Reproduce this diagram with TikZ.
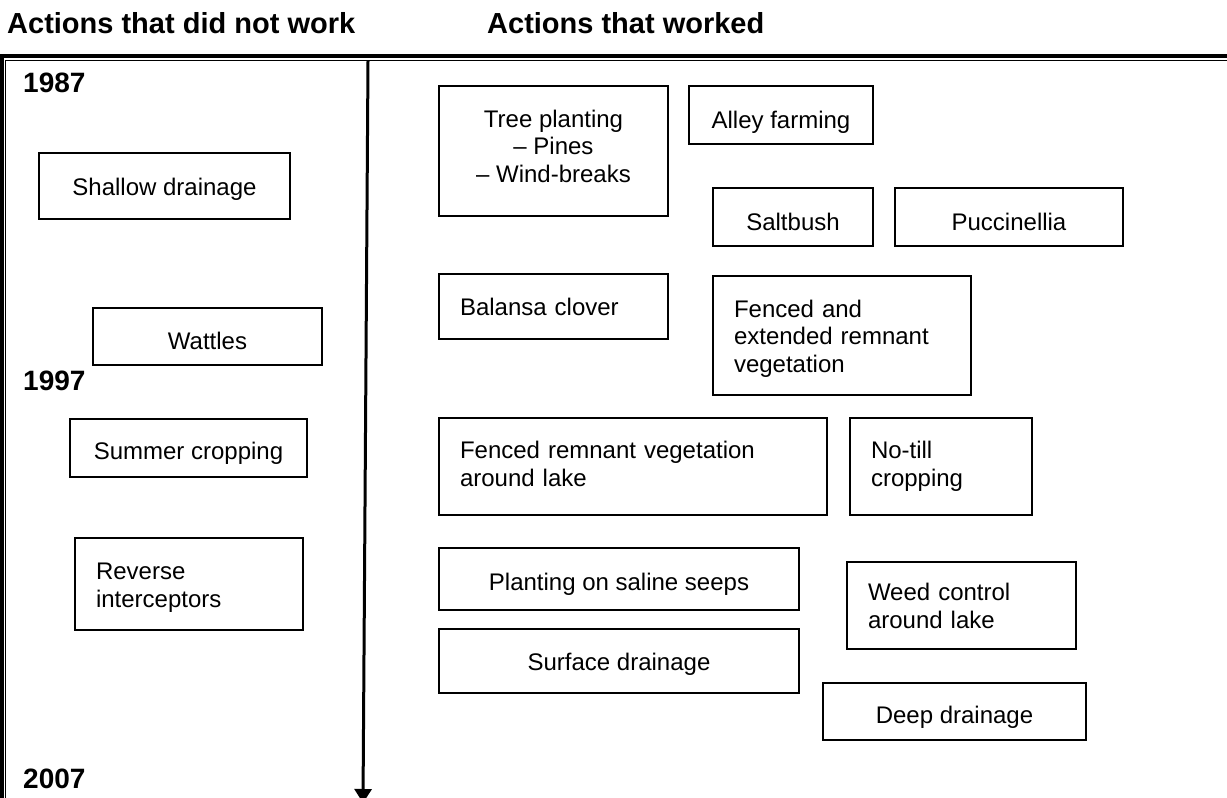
\documentclass[tikz,border=0pt]{standalone}
\usepackage{fontspec}
\setmainfont{Liberation Sans}
\usetikzlibrary{arrows.meta}

\begin{document}
\begin{tikzpicture}[x=1pt, y=-1pt,
    cbox/.style n args={2}{draw, line width=1.3pt, minimum width=#1, minimum height=#2,
      align=center, inner sep=0pt, font=\fontsize{24}{27.6}\selectfont},
    lbox/.style n args={2}{draw, line width=1.3pt, text width=#1, minimum height=#2,
      align=left, inner xsep=21pt, inner ysep=0pt, font=\fontsize{24}{27.6}\selectfont},
    lift/.style 2 args={text height=#1, text depth=#2},
    year/.style={anchor=base west, inner sep=0pt, font=\bfseries\fontsize{28}{32}\selectfont},
    heading/.style={anchor=base west, inner sep=0pt, font=\bfseries\fontsize{29}{33}\selectfont},
    timeline/.style={line width=3pt, -{Triangle[width=17pt,length=14pt]}}]
  \useasboundingbox (0,0) rectangle (1227,798);
  \clip (0,0) rectangle (1227,798);

  \node[heading] (notwork) at (7,33) {Actions that did not work};
  \node[heading] (worked) at (487,33) {Actions that worked};

  \draw[line width=4.3pt] (1227,56) -- (1.7,56) -- (1.7,798);
  \draw[line width=1.3pt] (1227,60.7) -- (5.3,60.7) -- (5.3,798);

  \coordinate (tstart) at (368,61);
  \coordinate (tend) at (363,803);
  \draw[timeline] (tstart) -- (tend);

  \node[year] (y1987) at (23,92) {1987};
  \node[year] (y1997) at (23,390) {1997};
  \node[year] (y2007) at (23,788) {2007};

  \node[cbox={251pt}{66pt}, lift={20.25pt}{2.25pt}] (shallow) at (164.5,186) {Shallow drainage};
  \node[cbox={229pt}{57pt}, lift={26.25pt}{1.25pt}] (wattles) at (207.5,336.5) {Wattles};
  \node[cbox={237pt}{58pt}, lift={25pt}{2.5pt}] (summer) at (188.5,448) {Summer cropping};
  \node[lbox={186pt}{92pt}, lift={23.5pt}{31.6pt}] (reverse) at (189,584) {Reverse\\interceptors};

  \node[cbox={229pt}{130pt}, lift={72.55pt}{10.15pt}] (tree) at (553.5,151) {Tree planting\\– Pines\\– Wind-breaks};
  \node[cbox={184pt}{58pt}, lift={26.75pt}{0.75pt}] (alley) at (781,115) {Alley farming};
  \node[cbox={160pt}{58pt}, lift={26.75pt}{0.75pt}] (saltbush) at (793,217) {Saltbush};
  \node[cbox={228pt}{58pt}, lift={26.75pt}{0.75pt}] (puccinellia) at (1009,217) {Puccinellia};
  \node[lbox={187pt}{65pt}, lift={22.25pt}{5.25pt}] (balansa) at (553.5,306.5) {Balansa clover};
  \node[lbox={216pt}{119pt}, lift={22.85pt}{59.85pt}] (fencedext) at (842,335.5) {Fenced and\\extended remnant\\vegetation};
  \node[lbox={346pt}{97pt}, lift={20pt}{35.1pt}] (fencedlake) at (633,466.5) {Fenced remnant vegetation\\around lake};
  \node[lbox={140pt}{97pt}, lift={20pt}{35.1pt}] (notill) at (941,466.5) {No-till\\cropping};
  \node[cbox={360pt}{62pt}, lift={24.75pt}{2.75pt}] (seeps) at (619,579) {Planting on saline seeps};
  \node[cbox={360pt}{64pt}, lift={23.5pt}{4pt}] (surface) at (619,661) {Surface drainage};
  \node[lbox={187pt}{87pt}, lift={23pt}{32.1pt}] (weed) at (961.5,605.5) {Weed control\\around lake};
  \node[cbox={263pt}{57pt}, lift={26pt}{1.5pt}] (deep) at (954.5,711.5) {Deep drainage};
\end{tikzpicture}
\end{document}
